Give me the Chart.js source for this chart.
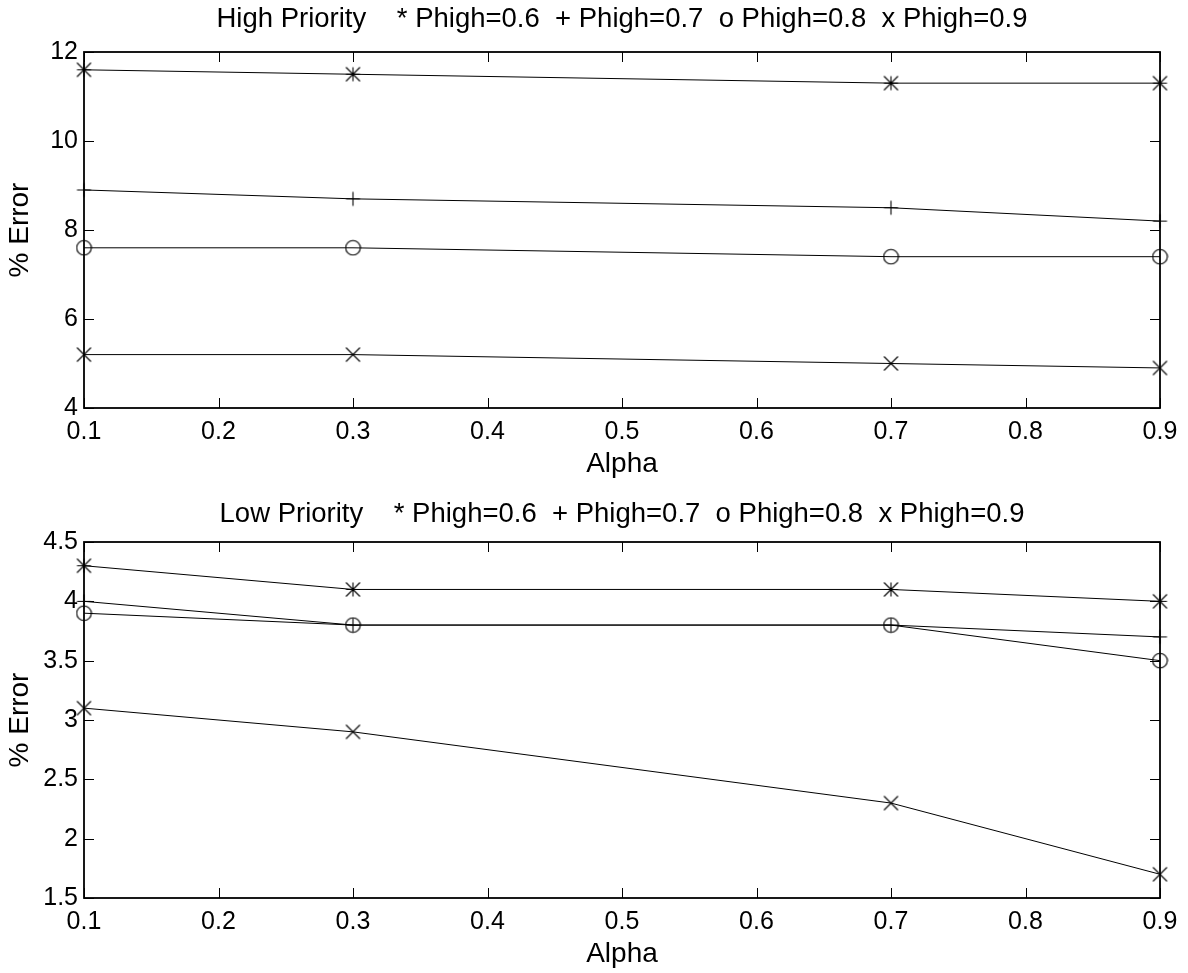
<!DOCTYPE html>
<html><head><meta charset="utf-8">
<script src="https://cdn.jsdelivr.net/npm/chart.js@4.4.0/dist/chart.umd.min.js"></script>
<style>
html,body{margin:0;padding:0;background:#fff;}
#wrap{position:relative;width:1188px;height:973px;background:#fff;}
.c{position:absolute;left:0;width:1188px;height:480px;}
</style></head><body>
<div id="wrap">
<div class="c" style="top:0"><canvas id="c1" width="1188" height="480"></canvas></div>
<div class="c" style="top:490px"><canvas id="c2" width="1188" height="480"></canvas></div>
</div>
<script>
// ---- data ----
const alpha = [0.1, 0.3, 0.7, 0.9];
const xTickValues = [0.1, 0.2, 0.3, 0.4, 0.5, 0.6, 0.7, 0.8, 0.9];
const xTickLabels = ['0.1', '0.2', '0.3', '0.4', '0.5', '0.6', '0.7', '0.8', '0.9'];

const highP06 = [11.6, 11.5, 11.3, 11.3];
const highP07 = [8.9, 8.7, 8.5, 8.2];
const highP08 = [7.6, 7.6, 7.4, 7.4];
const highP09 = [5.2, 5.2, 5.0, 4.9];
const highYTickValues = [4, 6, 8, 10, 12];
const highYTickLabels = ['4', '6', '8', '10', '12'];

const lowP06 = [4.3, 4.1, 4.1, 4.0];
const lowP07 = [4.0, 3.8, 3.8, 3.7];
const lowP08 = [3.9, 3.8, 3.8, 3.5];
const lowP09 = [3.1, 2.9, 2.3, 1.7];
const lowYTickValues = [1.5, 2, 2.5, 3, 3.5, 4, 4.5];
const lowYTickLabels = ['1.5', '2', '2.5', '3', '3.5', '4', '4.5'];

const highTitle = 'High Priority    * Phigh=0.6  + Phigh=0.7  o Phigh=0.8  x Phigh=0.9';
const lowTitle = 'Low Priority    * Phigh=0.6  + Phigh=0.7  o Phigh=0.8  x Phigh=0.9';
const xTitle = 'Alpha';
const yTitle = '% Error';

// ---- marker images ----
function marker(kind) {
  const s = 17, c = 8.5, r = 7;
  const cv = document.createElement('canvas');
  cv.width = s; cv.height = s;
  const g = cv.getContext('2d');
  g.strokeStyle = '#000'; g.lineWidth = 1.1;
  g.beginPath();
  if (kind === 'star' || kind === 'plus') {
    g.moveTo(c, c - r); g.lineTo(c, c + r);
    g.moveTo(c - r, c); g.lineTo(c + r, c);
  }
  if (kind === 'star' || kind === 'x') {
    g.moveTo(c - r, c - r); g.lineTo(c + r, c + r);
    g.moveTo(c - r, c + r); g.lineTo(c + r, c - r);
  }
  if (kind === 'circle') {
    g.arc(c, c, 7.3, 0, Math.PI * 2);
  }
  g.stroke();
  return cv;
}
const mStar = marker('star'), mPlus = marker('plus'), mCircle = marker('circle'), mX = marker('x');

const font = "'Liberation Sans', Arial, Helvetica, sans-serif";
const tickSize = 25, labelSize = 28, titleSize = 27.5;

const framePlugin = {
  id: 'frame',
  afterDraw(chart, args, opts) {
    const ctx = chart.ctx, a = chart.chartArea;
    const xs = chart.scales.x, ys = chart.scales.y;
    const yTicks = opts.yTicks || [];
    ctx.save();
    ctx.strokeStyle = '#000';
    ctx.lineWidth = 1;
    ctx.beginPath();
    const tl = 10;
    xTickValues.forEach(v => {
      const px = Math.round(xs.getPixelForValue(v)) + 0.5;
      ctx.moveTo(px, a.bottom); ctx.lineTo(px, a.bottom - tl);
      ctx.moveTo(px, a.top); ctx.lineTo(px, a.top + tl);
    });
    yTicks.forEach(v => {
      const py = Math.round(ys.getPixelForValue(v)) + 0.5;
      ctx.moveTo(a.left, py); ctx.lineTo(a.left + tl, py);
      ctx.moveTo(a.right, py); ctx.lineTo(a.right - tl, py);
    });
    ctx.stroke();
    ctx.lineWidth = 1.8;
    ctx.strokeRect(a.left, a.top, a.right - a.left, a.bottom - a.top);
    // title centred over the axes box
    ctx.fillStyle = '#000';
    ctx.font = titleSize + 'px ' + font;
    ctx.textAlign = 'center';
    ctx.textBaseline = 'alphabetic';
    ctx.fillText(opts.title || '', (a.left + a.right) / 2, opts.titleBaseline || 27);
    ctx.restore();
  }
};

function makeChart(id, title, titleBaseline, s6, s7, s8, s9, yVals, yLabels) {
  const mk = (vals, img) => ({
    data: alpha.map((x, i) => ({ x, y: vals[i] })),
    borderColor: '#000', borderWidth: 1, tension: 0,
    pointStyle: img, pointRadius: 7, pointHoverRadius: 7,
    backgroundColor: 'transparent', clip: false
  });
  return new Chart(document.getElementById(id), {
    type: 'line',
    data: { datasets: [mk(s6, mStar), mk(s7, mPlus), mk(s8, mCircle), mk(s9, mX)] },
    options: {
      responsive: false, animation: false,
      layout: { padding: { left: 0, right: 28, top: 52, bottom: 0 } },
      plugins: {
        legend: { display: false }, tooltip: { enabled: false },
        title: { display: false },
        frame: { yTicks: yVals, title: title, titleBaseline: titleBaseline }
      },
      scales: {
        x: {
          type: 'linear', min: xTickValues[0], max: xTickValues[xTickValues.length - 1],
          grid: { display: false, drawTicks: false }, border: { display: false },
          afterBuildTicks: s => { s.ticks = xTickValues.map(v => ({ value: v })); },
          ticks: { color: '#000', padding: 9, maxRotation: 0, autoSkip: false,
            font: { family: font, size: tickSize },
            callback: (v, i) => xTickLabels[i] },
          title: { display: true, text: xTitle, color: '#000',
            font: { family: font, size: labelSize }, padding: { top: 0, bottom: -1 } },
          afterFit: s => { s.height = 72; }
        },
        y: {
          type: 'linear', min: yVals[0], max: yVals[yVals.length - 1],
          grid: { display: false, drawTicks: false }, border: { display: false },
          afterBuildTicks: s => { s.ticks = yVals.map(v => ({ value: v })); },
          ticks: { color: '#000', padding: 6, autoSkip: false,
            font: { family: font, size: tickSize },
            callback: (v, i) => yLabels[i] },
          title: { display: true, text: yTitle, color: '#000',
            font: { family: font, size: labelSize }, padding: { top: 3, bottom: 0 } },
          afterFit: s => { s.width = 84; }
        }
      }
    },
    plugins: [framePlugin]
  });
}

makeChart('c1', highTitle, 27, highP06, highP07, highP08, highP09, highYTickValues, highYTickLabels);
makeChart('c2', lowTitle, 32, lowP06, lowP07, lowP08, lowP09, lowYTickValues, lowYTickLabels);
</script>
</body></html>
